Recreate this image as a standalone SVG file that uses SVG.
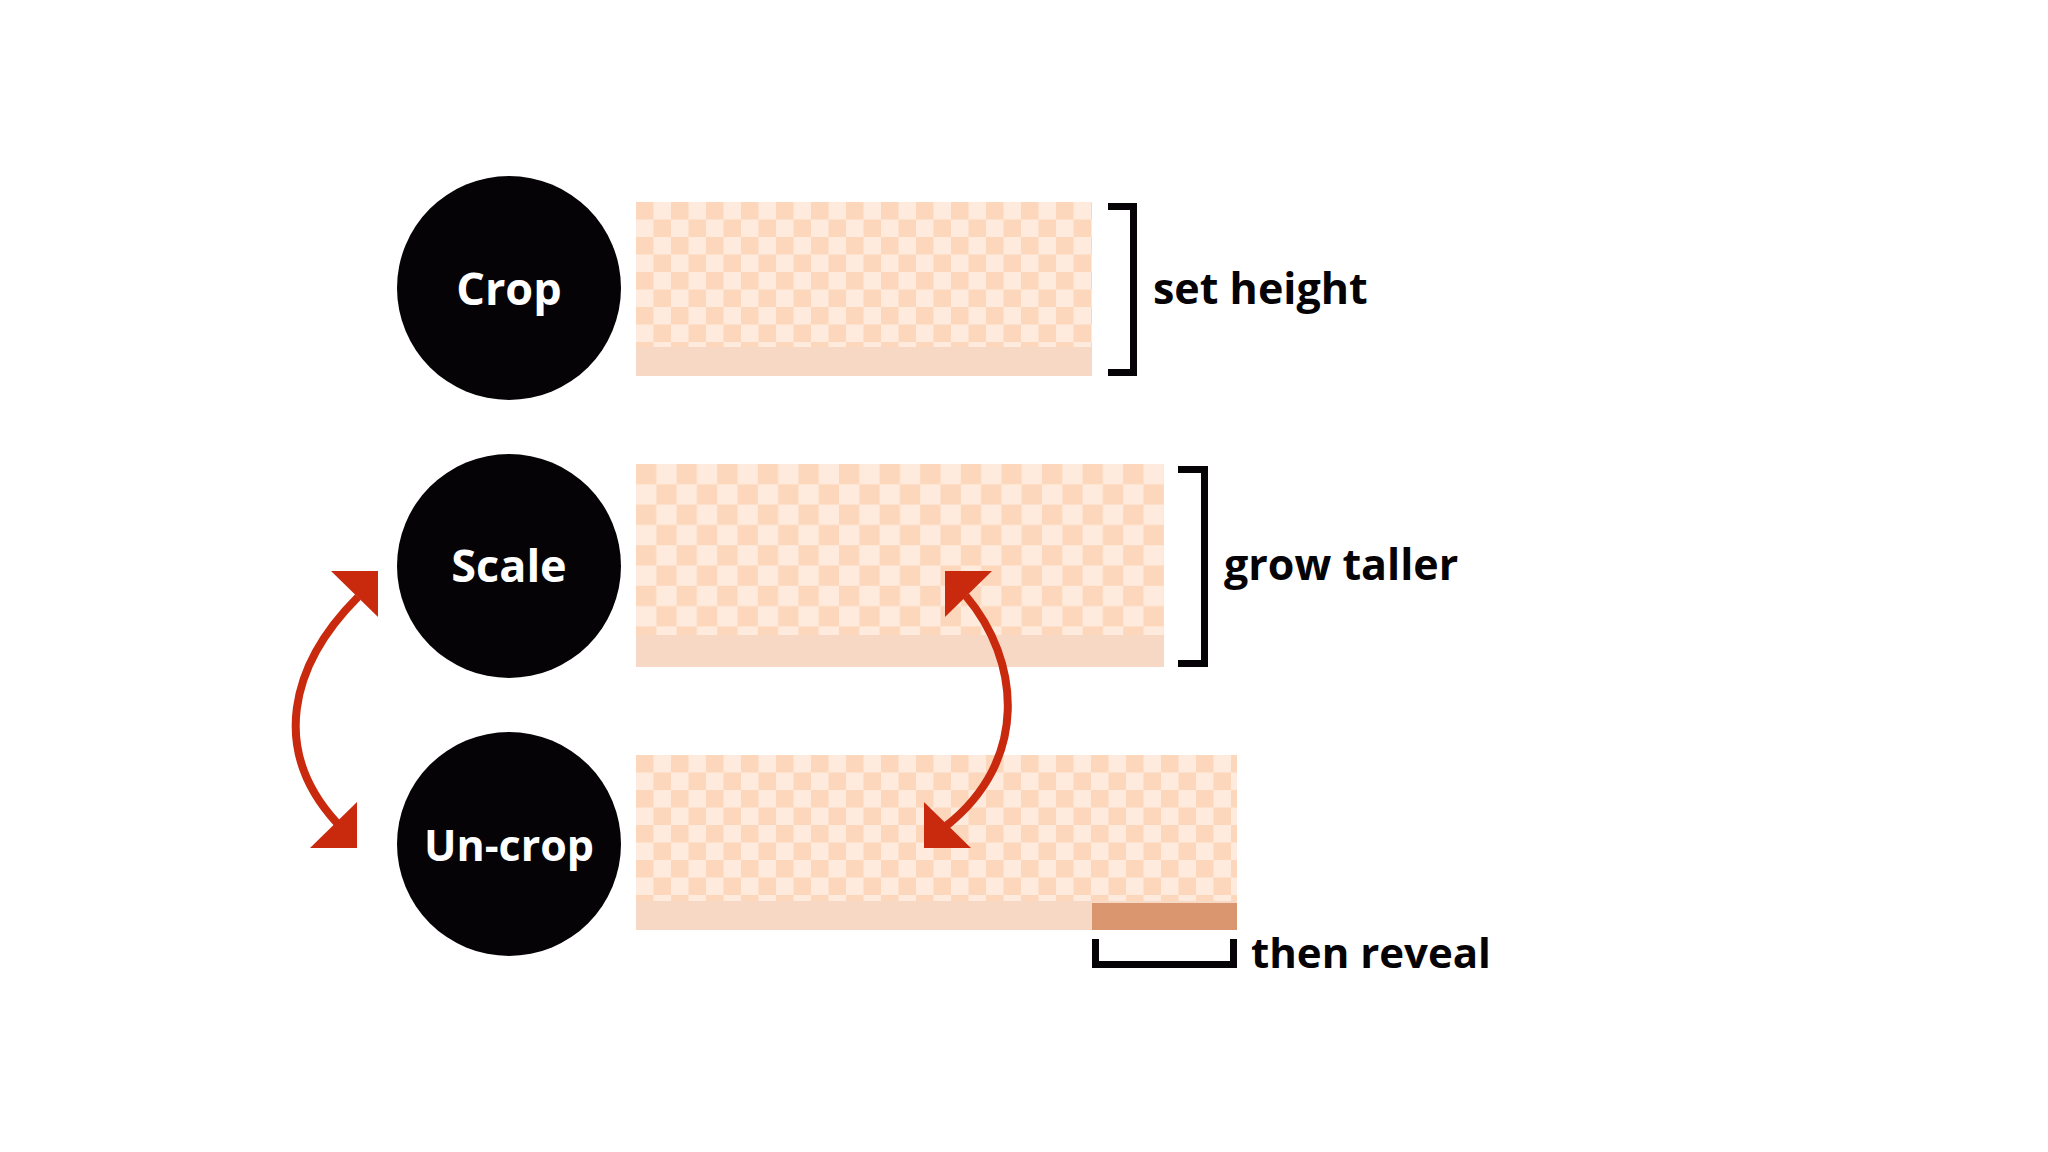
<svg xmlns="http://www.w3.org/2000/svg" width="2048" height="1152" viewBox="0 0 2048 1152">
<style>
.node-circle{fill:#050305}
.node-label{font-family:"Open Sans","Liberation Sans",sans-serif;font-weight:700;font-size:45px;fill:#ffffff;text-anchor:middle}
.side-label{font-family:"Open Sans","Liberation Sans",sans-serif;font-weight:700;font-size:43px;fill:#050305}
.band{fill:#F6D8C4}
.reveal{fill:#D9966F}
.bracket{fill:none;stroke:#050305;stroke-width:7;stroke-linejoin:miter;stroke-linecap:butt}
.arc{fill:none;stroke:#C92A0E;stroke-width:8}
.head{fill:#C92A0E}
</style>
<defs>
<pattern id="chkCrop" patternUnits="userSpaceOnUse" x="636" y="202" width="35" height="35">
<rect width="35" height="35" fill="#FFEBDD"/>
<rect width="17.5" height="17.5" fill="#FDD7BC"/>
<rect x="17.5" y="17.5" width="17.5" height="17.5" fill="#FDD7BC"/>
</pattern>
<pattern id="chkScale" patternUnits="userSpaceOnUse" x="636" y="464" width="40.6" height="40.6">
<rect width="40.6" height="40.6" fill="#FFEBDD"/>
<rect width="20.3" height="20.3" fill="#FDD7BC"/>
<rect x="20.3" y="20.3" width="20.3" height="20.3" fill="#FDD7BC"/>
</pattern>
<pattern id="chkUncrop" patternUnits="userSpaceOnUse" x="636" y="755" width="35" height="35">
<rect width="35" height="35" fill="#FFEBDD"/>
<rect width="17.5" height="17.5" fill="#FDD7BC"/>
<rect x="17.5" y="17.5" width="17.5" height="17.5" fill="#FDD7BC"/>
</pattern>
</defs>
<rect width="2048" height="1152" fill="#ffffff"/>

<g id="crop">
<circle class="node-circle" cx="509" cy="288" r="112"/>
<text class="node-label" x="509" y="305">Crop</text>
</g>
<g id="crop-image">
<rect x="636" y="202" width="456" height="146" fill="url(#chkCrop)"/>
<rect class="band" x="636" y="347" width="456" height="29"/>
</g>
<g id="set-height">
<path class="bracket" d="M1108 206.5 H1133.5 V372.5 H1108"/>
<text class="side-label" x="1153" y="304">set height</text>
</g>

<g id="scale">
<circle class="node-circle" cx="509" cy="566" r="112"/>
<text class="node-label" x="509" y="582">Scale</text>
</g>
<g id="scale-image">
<rect x="636" y="464" width="528" height="172" fill="url(#chkScale)"/>
<rect class="band" x="636" y="635" width="528" height="32"/>
</g>
<g id="grow-taller">
<path class="bracket" d="M1178 469.5 H1204.5 V663.5 H1178"/>
<text class="side-label" x="1224" y="580">grow taller</text>
</g>

<g id="uncrop">
<circle class="node-circle" cx="509" cy="844" r="112"/>
<text class="node-label" x="509" y="861" style="font-size:43px">Un-crop</text>
</g>
<g id="uncrop-image">
<rect x="636" y="755" width="601" height="147" fill="url(#chkUncrop)"/>
<rect class="band" x="636" y="901" width="601" height="29"/>
<rect class="reveal" x="1092" y="903" width="145" height="27"/>
</g>
<g id="then-reveal">
<path class="bracket" d="M1095.5 939 V964.5 H1233.5 V939"/>
<text class="side-label" x="1251" y="968" style="font-size:42px">then reveal</text>
</g>

<g id="connectors">
<path class="arc" d="M358 597 C290 665 270 750 337 823"/>
<polygon class="head" points="331,571 378,571 378,617"/>
<polygon class="head" points="357,802 357,848 310,848"/>
<path class="arc" d="M966 596 C1020 660 1030 760 946 826"/>
<polygon class="head" points="945,571 992,571 945,617"/>
<polygon class="head" points="924,802 924,848 971,848"/>
</g>
</svg>
